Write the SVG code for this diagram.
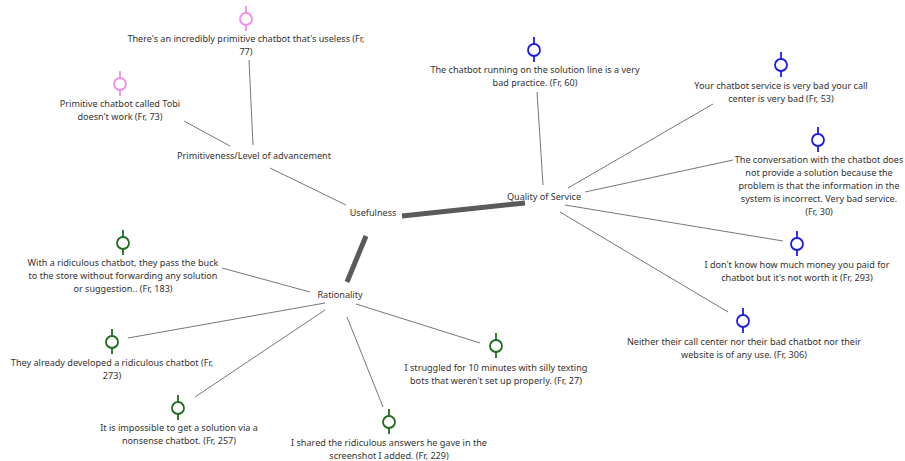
<svg xmlns="http://www.w3.org/2000/svg" width="905" height="461" viewBox="0 0 905 461">
<defs>
<style>
text{font-family:"Noto Sans","Open Sans","Liberation Sans",sans-serif;font-size:9.1px;fill:#333;text-anchor:middle;dominant-baseline:central}
.c{stroke:#666;stroke-width:0.9;fill:none}
.t{stroke:#5a5a5a;stroke-width:5;fill:none}
.pk{stroke:#f08cf0;stroke-width:1.8;fill:#fff}
.bl{stroke:#1c1ce6;stroke-width:1.8;fill:#fff}
.gr{stroke:#1f6b1f;stroke-width:1.8;fill:#fff}
</style>
<g id="icon">
<line x1="0" y1="-13" x2="0" y2="-6"/>
<line x1="0" y1="6" x2="0" y2="12"/>
<circle cx="0" cy="0" r="6"/>
</g>
</defs>
<rect width="905" height="461" fill="#fff"/>
<g id="connectors">
<line class="c" x1="249" y1="60" x2="253" y2="145"/>
<line class="c" x1="184" y1="121" x2="230" y2="146"/>
<line class="c" x1="270" y1="168" x2="346" y2="205"/>
<line class="t" x1="402" y1="216" x2="525" y2="203"/>
<line class="t" x1="366" y1="236" x2="347" y2="282"/>
<line class="c" x1="537" y1="92" x2="543" y2="185"/>
<line class="c" x1="713" y1="104" x2="568" y2="188"/>
<line class="c" x1="733" y1="160" x2="585" y2="192"/>
<line class="c" x1="565" y1="205" x2="783" y2="241"/>
<line class="c" x1="560" y1="212" x2="728" y2="312"/>
<line class="c" x1="222" y1="268" x2="310" y2="292"/>
<line class="c" x1="128" y1="338" x2="325" y2="303"/>
<line class="c" x1="195" y1="397" x2="325" y2="310"/>
<line class="c" x1="347" y1="317" x2="383" y2="407"/>
<line class="c" x1="356" y1="304" x2="480" y2="343"/>
</g>
<g id="n_primitiveness"><text x="254" y="155">Primitiveness/Level of advancement</text></g>
<g id="n_usefulness"><text x="373" y="212">Usefulness</text></g>
<g id="n_quality"><text x="544" y="196">Quality of Service</text></g>
<g id="n_rationality"><text x="340" y="294">Rationality</text></g>
<g id="q77"><use href="#icon" class="pk" x="246" y="19"/><text x="246" y="38">There's an incredibly primitive chatbot that's useless (Fr,</text><text x="246" y="51">77)</text></g>
<g id="q73"><use href="#icon" class="pk" x="120" y="84"/><text x="120" y="103">Primitive chatbot called Tobi</text><text x="120" y="116">doesn't work (Fr, 73)</text></g>
<g id="q60"><use href="#icon" class="bl" x="534" y="50"/><text x="535" y="69">The chatbot running on the solution line is a very</text><text x="535" y="82">bad practice. (Fr, 60)</text></g>
<g id="q53"><use href="#icon" class="bl" x="781" y="65"/><text x="781" y="85">Your chatbot service is very bad your call</text><text x="781" y="98">center is very bad (Fr, 53)</text></g>
<g id="q30"><use href="#icon" class="bl" x="818" y="140"/><text x="819" y="159">The conversation with the chatbot does</text><text x="819" y="172">not provide a solution because the</text><text x="819" y="185">problem is that the information in the</text><text x="819" y="198">system is incorrect. Very bad service.</text><text x="819" y="211">(Fr, 30)</text></g>
<g id="q293"><use href="#icon" class="bl" x="797" y="244"/><text x="797" y="264">I don't know how much money you paid for</text><text x="797" y="277">chatbot but it's not worth it (Fr, 293)</text></g>
<g id="q306"><use href="#icon" class="bl" x="743" y="321"/><text x="744" y="341">Neither their call center nor their bad chatbot nor their</text><text x="744" y="354">website is of any use. (Fr, 306)</text></g>
<g id="q183"><use href="#icon" class="gr" x="123" y="243"/><text x="123" y="262">With a ridiculous chatbot, they pass the buck</text><text x="123" y="275">to the store without forwarding any solution</text><text x="123" y="288">or suggestion.. (Fr, 183)</text></g>
<g id="q273"><use href="#icon" class="gr" x="112" y="342"/><text x="112" y="362">They already developed a ridiculous chatbot (Fr,</text><text x="112" y="375">273)</text></g>
<g id="q257"><use href="#icon" class="gr" x="178" y="408"/><text x="179" y="427">It is impossible to get a solution via a</text><text x="179" y="440">nonsense chatbot. (Fr, 257)</text></g>
<g id="q229"><use href="#icon" class="gr" x="389" y="422"/><text x="389" y="442">I shared the ridiculous answers he gave in the</text><text x="389" y="455">screenshot I added. (Fr, 229)</text></g>
<g id="q27"><use href="#icon" class="gr" x="496" y="346"/><text x="496" y="367">I struggled for 10 minutes with silly texting</text><text x="496" y="380">bots that weren't set up properly. (Fr, 27)</text></g>
</svg>
